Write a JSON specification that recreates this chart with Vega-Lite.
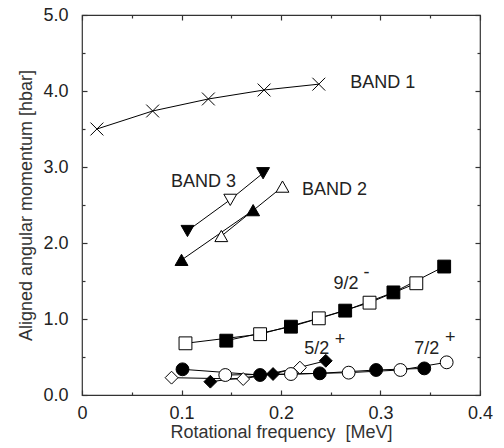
{
  "$schema": "https://vega.github.io/schema/vega-lite/v6.json",
  "width": 398,
  "height": 380,
  "autosize": {"type": "none"},
  "padding": {"left": 82, "top": 15, "right": 24, "bottom": 53},
  "config": {
    "font": "Liberation Sans",
    "view": {"stroke": "#333", "strokeWidth": 1.2},
    "axis": {
      "grid": false,
      "domain": false,
      "tickColor": "#333",
      "tickWidth": 1.2,
      "labelFontSize": 18,
      "labelColor": "#222",
      "titleFontSize": 18,
      "titleFontWeight": "normal",
      "titleColor": "#333"
    }
  },
  "datasets": {
    "pts": [
      {"x": 0.015, "y": 3.50, "band": "BAND 1", "sig": "filled", "curve": "B1"},
      {"x": 0.071, "y": 3.737, "band": "BAND 1", "sig": "filled", "curve": "B1"},
      {"x": 0.127, "y": 3.895, "band": "BAND 1", "sig": "filled", "curve": "B1"},
      {"x": 0.183, "y": 4.013, "band": "BAND 1", "sig": "filled", "curve": "B1"},
      {"x": 0.238, "y": 4.09, "band": "BAND 1", "sig": "filled", "curve": "B1"},
      {"x": 0.106, "y": 2.16, "band": "BAND 3", "sig": "filled", "curve": "B3"},
      {"x": 0.149, "y": 2.57, "band": "BAND 3", "sig": "open", "curve": "B3"},
      {"x": 0.182, "y": 2.92, "band": "BAND 3", "sig": "filled", "curve": "B3"},
      {"x": 0.100, "y": 1.776, "band": "BAND 2", "sig": "filled", "curve": "B2f"},
      {"x": 0.172, "y": 2.43, "band": "BAND 2", "sig": "filled", "curve": "B2f"},
      {"x": 0.140, "y": 2.09, "band": "BAND 2", "sig": "open", "curve": "B2o"},
      {"x": 0.2015, "y": 2.74, "band": "BAND 2", "sig": "open", "curve": "B2o"},
      {"x": 0.145, "y": 0.715, "band": "9/2-", "sig": "filled", "curve": "N9f"},
      {"x": 0.210, "y": 0.899, "band": "9/2-", "sig": "filled", "curve": "N9f"},
      {"x": 0.2645, "y": 1.11, "band": "9/2-", "sig": "filled", "curve": "N9f"},
      {"x": 0.313, "y": 1.35, "band": "9/2-", "sig": "filled", "curve": "N9f"},
      {"x": 0.364, "y": 1.69, "band": "9/2-", "sig": "filled", "curve": "N9f"},
      {"x": 0.104, "y": 0.68, "band": "9/2-", "sig": "open", "curve": "N9o"},
      {"x": 0.179, "y": 0.80, "band": "9/2-", "sig": "open", "curve": "N9o"},
      {"x": 0.238, "y": 1.009, "band": "9/2-", "sig": "open", "curve": "N9o"},
      {"x": 0.289, "y": 1.215, "band": "9/2-", "sig": "open", "curve": "N9o"},
      {"x": 0.336, "y": 1.47, "band": "9/2-", "sig": "open", "curve": "N9o"},
      {"x": 0.101, "y": 0.338, "band": "7/2+", "sig": "filled", "curve": "S7f"},
      {"x": 0.179, "y": 0.263, "band": "7/2+", "sig": "filled", "curve": "S7f"},
      {"x": 0.239, "y": 0.285, "band": "7/2+", "sig": "filled", "curve": "S7f"},
      {"x": 0.2956, "y": 0.329, "band": "7/2+", "sig": "filled", "curve": "S7f"},
      {"x": 0.344, "y": 0.35, "band": "7/2+", "sig": "filled", "curve": "S7f"},
      {"x": 0.144, "y": 0.263, "band": "7/2+", "sig": "open", "curve": "S7o"},
      {"x": 0.210, "y": 0.276, "band": "7/2+", "sig": "open", "curve": "S7o"},
      {"x": 0.268, "y": 0.294, "band": "7/2+", "sig": "open", "curve": "S7o"},
      {"x": 0.320, "y": 0.329, "band": "7/2+", "sig": "open", "curve": "S7o"},
      {"x": 0.3665, "y": 0.43, "band": "7/2+", "sig": "open", "curve": "S7o"},
      {"x": 0.129, "y": 0.175, "band": "5/2+", "sig": "filled", "curve": "F5f"},
      {"x": 0.192, "y": 0.276, "band": "5/2+", "sig": "filled", "curve": "F5f"},
      {"x": 0.245, "y": 0.45, "band": "5/2+", "sig": "filled", "curve": "F5f"},
      {"x": 0.090, "y": 0.228, "band": "5/2+", "sig": "open", "curve": "F5o"},
      {"x": 0.162, "y": 0.21, "band": "5/2+", "sig": "open", "curve": "F5o"},
      {"x": 0.219, "y": 0.36, "band": "5/2+", "sig": "open", "curve": "F5o"}
    ],
    "labels": [
      {"x": 0.2695, "y": 4.10, "text": "BAND 1"},
      {"x": 0.0894, "y": 2.807, "text": "BAND 3"},
      {"x": 0.221, "y": 2.697, "text": "BAND 2"},
      {"x": 0.2527, "y": 1.456, "text": "9/2"},
      {"x": 0.2233, "y": 0.605, "text": "5/2"},
      {"x": 0.334, "y": 0.605, "text": "7/2"},
      {"x": 0.283, "y": 1.60, "text": "-"},
      {"x": 0.2541, "y": 0.724, "text": "+"},
      {"x": 0.3647, "y": 0.746, "text": "+"}
    ]
  },
  "resolve": {"axis": {"x": "independent", "y": "independent"}},
  "layer": [
    {
      "data": {"name": "pts"},
      "mark": {"type": "line", "color": "black", "strokeWidth": 1},
      "encoding": {
        "x": {
          "field": "x", "type": "quantitative",
          "scale": {"domain": [0, 0.4], "nice": false},
          "axis": {
            "orient": "bottom",
            "title": "Rotational frequency \u00a0[MeV]",
            "values": [0, 0.05, 0.1, 0.15, 0.2, 0.25, 0.3, 0.35, 0.4],
            "labelExpr": "datum.value == 0 ? '0' : (abs(round(datum.value*10) - datum.value*10) < 0.001 ? format(datum.value, '.1f') : '')",
            "tickSize": {"condition": {"test": "abs(round(datum.value*10) - datum.value*10) < 0.001", "value": -5}, "value": -3},
            "labelPadding": 14,
            "labelFlush": false,
            "titlePadding": 1
          }
        },
        "y": {
          "field": "y", "type": "quantitative",
          "scale": {"domain": [0, 5], "nice": false},
          "axis": {
            "orient": "left",
            "title": "Aligned angular momentum [hbar]",
            "values": [0, 0.5, 1, 1.5, 2, 2.5, 3, 3.5, 4, 4.5, 5],
            "labelExpr": "abs(round(datum.value) - datum.value) < 0.001 ? format(datum.value, '.1f') : ''",
            "tickSize": {"condition": {"test": "abs(round(datum.value) - datum.value) < 0.001", "value": -5}, "value": -3},
            "labelPadding": 19,
            "labelFlush": false,
            "titlePadding": 7
          }
        },
        "detail": {"field": "curve"}
      }
    },
    {
      "data": {"name": "pts"},
      "mark": {"type": "point", "filled": true, "stroke": "black", "strokeWidth": 1, "opacity": 1, "size": 165},
      "encoding": {
        "x": {
          "field": "x", "type": "quantitative",
          "axis": {
            "orient": "top", "title": null, "labels": false,
            "values": [0, 0.05, 0.1, 0.15, 0.2, 0.25, 0.3, 0.35, 0.4],
            "tickSize": {"condition": {"test": "abs(round(datum.value*10) - datum.value*10) < 0.001", "value": -5}, "value": -3}
          }
        },
        "y": {
          "field": "y", "type": "quantitative",
          "axis": {
            "orient": "right", "title": null, "labels": false,
            "values": [0, 0.5, 1, 1.5, 2, 2.5, 3, 3.5, 4, 4.5, 5],
            "tickSize": {"condition": {"test": "abs(round(datum.value) - datum.value) < 0.001", "value": -5}, "value": -3}
          }
        },
        "shape": {
          "field": "band", "type": "nominal", "legend": null,
          "scale": {
            "domain": ["BAND 1", "BAND 2", "BAND 3", "9/2-", "7/2+", "5/2+"],
            "range": ["M-1,-1L1,1M-1,1L1,-1", "M0,-0.9L1,0.85L-1,0.85Z", "M0,0.9L1,-0.85L-1,-0.85Z", "square", "circle", "diamond"]
          }
        },
        "fill": {
          "field": "sig", "type": "nominal", "legend": null,
          "scale": {"domain": ["filled", "open"], "range": ["black", "white"]}
        }
      }
    },
    {
      "data": {"name": "labels"},
      "mark": {"type": "text", "fontSize": 18, "color": "#222", "baseline": "middle", "align": "left"},
      "encoding": {
        "x": {"field": "x", "type": "quantitative", "axis": null},
        "y": {"field": "y", "type": "quantitative", "axis": null},
        "text": {"field": "text"}
      }
    }
  ]
}
